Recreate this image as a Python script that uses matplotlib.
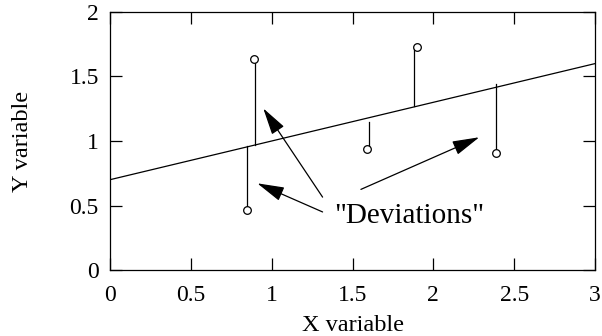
import matplotlib.pyplot as plt

plt.rcParams['font.family'] = ['Liberation Serif', 'DejaVu Serif']

# regression line endpoints
line_x = [0, 3]
line_y = [0.7, 1.6]

# observed points
pt_x = [0.845, 0.89, 1.59, 1.90, 2.39]
pt_y = [0.465, 1.635, 0.935, 1.73, 0.91]

# deviation segments (x, end on the line)
seg_x = [0.845, 0.895, 1.60, 1.88, 2.39]
seg_end = [0.96, 0.97, 1.15, 1.27, 1.44]

# arrows: (tail, head)
arrows = [((1.315, 0.565), (0.948, 1.253)),
          ((1.315, 0.45), (0.911, 0.672)),
          ((1.552, 0.625), (2.284, 1.029))]

fig = plt.figure(figsize=(6.02, 3.36), dpi=100)
ax = fig.add_axes([0.1827, 0.1964, 0.8057, 0.7679])

ax.plot(line_x, line_y, color='black', lw=0.9)
for x, y0, y1 in zip(seg_x, pt_y, seg_end):
    ax.plot([x, x], [y0, y1], color='black', lw=0.9)
ax.plot(pt_x, pt_y, 'o', ms=5.5, mfc='white', mec='black', mew=0.9, zorder=5)

for (tx, ty), (hx, hy) in arrows:
    ax.annotate('', xy=(hx, hy), xytext=(tx, ty),
                arrowprops=dict(arrowstyle='-|>,head_length=1.05,head_width=0.28',
                                color='black', lw=0.9, mutation_scale=16,
                                shrinkA=0, shrinkB=0))

ax.text(1.848, 0.362, '"Deviations"', ha='center', va='baseline', fontsize=21)

ax.set_xlim(0, 3)
ax.set_ylim(0, 2)
ax.set_xticks([0, 0.5, 1, 1.5, 2, 2.5, 3])
ax.set_xticklabels(['0', '0.5', '1', '1.5', '2', '2.5', '3'])
ax.set_yticks([0, 0.5, 1, 1.5, 2])
ax.set_yticklabels(['0', '0.5', '1', '1.5', '2'])
ax.tick_params(direction='in', length=8.5, width=0.9, labelsize=17,
               top=True, right=True, pad=8)
ax.tick_params(axis='x', pad=11)
for s in ax.spines.values():
    s.set_linewidth(0.9)

ax.set_xlabel('X variable', fontsize=17.5, labelpad=6)
ax.set_ylabel('Y variable', fontsize=17.5, labelpad=26)

fig.savefig('out.png', dpi=100)
